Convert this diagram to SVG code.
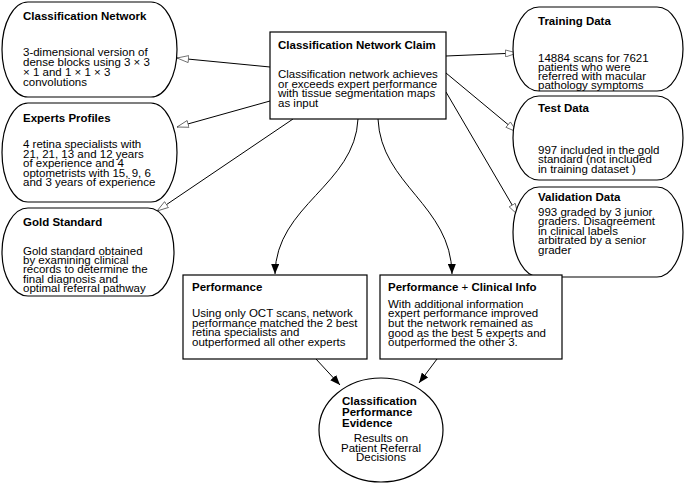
<svg xmlns="http://www.w3.org/2000/svg" width="685" height="483" viewBox="0 0 685 483">
<style>
text{font-family:"Liberation Sans",Arial,sans-serif;fill:#000}
.t{font-size:11.5px;font-weight:bold}
.b{font-size:11.5px}
.n{fill:#fff;stroke:#000;stroke-width:1.2}
.e{fill:none;stroke:#000;stroke-width:1}
</style>
<defs>
<marker id="open" viewBox="0 0 12 8" refX="12" refY="4" markerWidth="12" markerHeight="8" markerUnits="userSpaceOnUse" orient="auto">
<path d="M0.5,0.5 L12,4 L0.5,7.5 Z" fill="#fff" stroke="#555" stroke-width="0.8"/>
</marker>
<marker id="fill" viewBox="0 0 10 8" refX="10" refY="4" markerWidth="10" markerHeight="8" markerUnits="userSpaceOnUse" orient="auto">
<path d="M0,0 L10,4 L0,8 Z" fill="#000"/>
</marker>
</defs>
<rect width="685" height="483" fill="#fff"/>
<g id="connectors">
<line class="e" x1="270" y1="67" x2="177" y2="58" marker-end="url(#open)"/>
<line class="e" x1="270" y1="101" x2="177" y2="127" marker-end="url(#open)"/>
<line class="e" x1="293" y1="119" x2="157" y2="211" marker-end="url(#open)"/>
<line class="e" x1="446" y1="56" x2="517" y2="53" marker-end="url(#open)"/>
<line class="e" x1="446" y1="73" x2="517" y2="132" marker-end="url(#open)"/>
<line class="e" x1="446" y1="92" x2="518" y2="215" marker-end="url(#open)"/>
<path class="e" d="M358,119 C355,185 276,205 275,274" marker-end="url(#fill)"/>
<path class="e" d="M378,119 C381,185 451,205 452,274" marker-end="url(#fill)"/>
<line class="e" x1="316" y1="359" x2="340" y2="385" marker-end="url(#fill)"/>
<line class="e" x1="437" y1="359" x2="419" y2="383" marker-end="url(#fill)"/>
</g>
<g id="claim">
<rect x="270" y="32" width="176" height="87" fill="#fff" stroke="#000" stroke-width="1.2"/>
<text class="t" x="278" y="49">Classification Network Claim</text>
<text class="b" x="278" y="78">Classification network achieves<tspan x="278" dy="9.7">or exceeds expert performance</tspan><tspan x="278" dy="9.7">with tissue segmentation maps</tspan><tspan x="278" dy="9.7">as input</tspan></text>
</g>
<g id="classification-network">
<rect class="n" x="2" y="2" width="175" height="95" rx="26" ry="47.5"/>
<text class="t" x="23" y="20">Classification Network</text>
<text class="b" x="23" y="56">3-dimensional version of<tspan x="23" dy="10">dense blocks using 3 × 3</tspan><tspan x="23" dy="10">× 1 and 1 × 1 × 3</tspan><tspan x="23" dy="10">convolutions</tspan></text>
</g>
<g id="experts-profiles">
<rect class="n" x="2" y="103" width="175" height="99" rx="26" ry="49.5"/>
<text class="t" x="23" y="122">Experts Profiles</text>
<text class="b" x="23" y="148">4 retina specialists with<tspan x="23" dy="9.6">21, 21, 13 and 12 years</tspan><tspan x="23" dy="9.6">of experience and 4</tspan><tspan x="23" dy="9.6">optometrists with 15, 9, 6</tspan><tspan x="23" dy="9.6">and 3 years of experience</tspan></text>
</g>
<g id="gold-standard">
<rect class="n" x="2" y="208" width="172" height="88" rx="26" ry="44"/>
<text class="t" x="23" y="226">Gold Standard</text>
<text class="b" x="23" y="255">Gold standard obtained<tspan x="23" dy="9.2">by examining clinical</tspan><tspan x="23" dy="9.2">records to determine the</tspan><tspan x="23" dy="9.2">final diagnosis and</tspan><tspan x="23" dy="9.2">optimal referral pathway</tspan></text>
</g>
<g id="training-data">
<rect class="n" x="513" y="7" width="170" height="84" rx="26" ry="42"/>
<text class="t" x="538" y="25">Training Data</text>
<text class="b" x="538" y="62">14884 scans for 7621<tspan x="538" dy="8.9">patients who were</tspan><tspan x="538" dy="8.9">referred with macular</tspan><tspan x="538" dy="8.9">pathology symptoms</tspan></text>
</g>
<g id="test-data">
<rect class="n" x="513" y="96" width="170" height="84" rx="26" ry="42"/>
<text class="t" x="538" y="112">Test Data</text>
<text class="b" x="538" y="154">997 included in the gold<tspan x="538" dy="9.3">standard (not included</tspan><tspan x="538" dy="9.3">in training dataset )</tspan></text>
</g>
<g id="validation-data">
<rect class="n" x="513" y="187" width="170" height="90" rx="26" ry="45"/>
<text class="t" x="538" y="201">Validation Data</text>
<text class="b" x="538" y="216">993 graded by 3 junior<tspan x="538" dy="9.4">graders. Disagreement</tspan><tspan x="538" dy="9.4">in clinical labels</tspan><tspan x="538" dy="9.4">arbitrated by a senior</tspan><tspan x="538" dy="9.4">grader</tspan></text>
</g>
<g id="performance">
<rect class="n" x="183" y="275" width="184" height="84"/>
<text class="t" x="192" y="291">Performance</text>
<text class="b" x="192" y="317">Using only OCT scans, network<tspan x="192" dy="9.7">performance matched the 2 best</tspan><tspan x="192" dy="9.7">retina specialists and</tspan><tspan x="192" dy="9.7">outperformed all other experts</tspan></text>
</g>
<g id="performance-clinical">
<rect class="n" x="380" y="275" width="182" height="84"/>
<text class="t" x="388" y="291">Performance <tspan font-weight="normal">+</tspan> Clinical Info</text>
<text class="b" x="388" y="307.5">With additional information<tspan x="388" dy="9.7">expert performance improved</tspan><tspan x="388" dy="9.7">but the network remained as</tspan><tspan x="388" dy="9.7">good as the best 5 experts and</tspan><tspan x="388" dy="9.7">outperformed the other 3.</tspan></text>
</g>
<g id="evidence">
<ellipse class="n" cx="381" cy="430" rx="62" ry="52"/>
<text class="t" x="342" y="405">Classification<tspan x="342" dy="11">Performance</tspan><tspan x="342" dy="11">Evidence</tspan></text>
<text class="b" x="381" y="442" text-anchor="middle">Results on<tspan x="381" dy="9.5">Patient Referral</tspan><tspan x="381" dy="9.5">Decisions</tspan></text>
</g>
</svg>
